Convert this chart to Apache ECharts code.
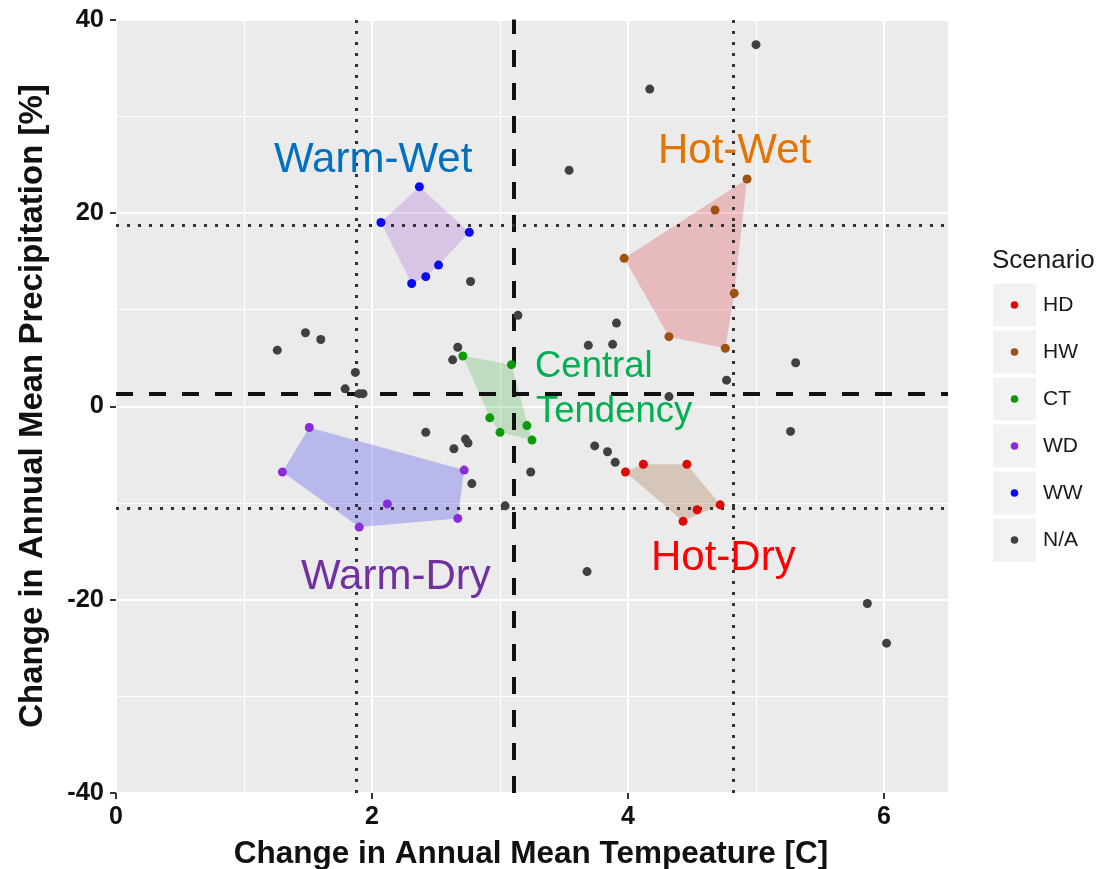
<!DOCTYPE html>
<html><head><meta charset="utf-8">
<script src="https://cdn.jsdelivr.net/npm/echarts@6/dist/echarts.min.js"></script>
<style>html,body{margin:0;padding:0;background:#fff}#c{width:1109px;height:869px}</style>
</head><body><div id="c"></div>
<script>
// ---- data (temperature change [C], precipitation change [%]) ----
const HD = [[3.98,-6.8],[4.12,-6.0],[4.46,-6.0],[4.72,-10.2],[4.54,-10.7],[4.43,-11.9]];
const HW = [[3.97,15.3],[4.68,20.3],[4.93,23.5],[4.83,11.7],[4.32,7.2],[4.76,6.0]];
const CT = [[2.71,5.2],[3.09,4.3],[2.92,-1.2],[3.00,-2.7],[3.21,-2.0],[3.25,-3.5]];
const WD = [[1.51,-2.2],[1.30,-6.8],[1.90,-12.5],[2.12,-10.1],[2.72,-6.6],[2.67,-11.6]];
const WW = [[2.07,19.0],[2.37,22.7],[2.76,18.0],[2.52,14.6],[2.42,13.4],[2.31,12.7]];
const NA = [[1.26,5.8],[1.48,7.6],[1.60,6.9],[1.87,3.5],[1.79,1.8],[1.90,1.3],[1.93,1.3],
  [2.77,12.9],[3.14,9.4],[2.67,6.1],[2.63,4.8],[2.42,-2.7],[2.73,-3.4],[2.75,-3.8],[2.64,-4.4],
  [2.78,-8.0],[3.24,-6.8],[3.04,-10.3],[5.00,37.4],[4.17,32.8],[3.54,24.4],[3.91,8.6],[3.69,6.3],
  [3.88,6.4],[5.31,4.5],[4.77,2.7],[4.32,1.0],[5.27,-2.6],[3.74,-4.1],[3.84,-4.7],[3.90,-5.8],
  [3.68,-17.1],[5.87,-20.4],[6.02,-24.5]];
const scenarioNames = ['HD','HW','CT','WD','WW','N/A'];
const dashedX = [3.11];
const dashedY = [1.34];
const dottedX = [1.88, 4.815];
const dottedY = [18.75, -10.55];
const xLabelValues = [0,2,4,6];

// ---- styles ----
const groups = [HD, HW, CT, WD, WW, NA];
const pointColors = ['#DD0A0A','#A0500F','#0A9A0A','#8C2BD8','#0A0AF5','#404040'];
const hullFills = {
  HD:'rgba(160,100,50,0.27)', HW:'rgba(220,60,70,0.27)', CT:'rgba(40,170,40,0.22)',
  WD:'rgba(90,90,240,0.35)', WW:'rgba(160,80,210,0.25)'
};
const FONT = "'Liberation Sans', Arial, Helvetica, sans-serif";

function hull(pts){
  const p = pts.slice().sort((a,b)=>a[0]-b[0]||a[1]-b[1]);
  const cross=(o,a,b)=>(a[0]-o[0])*(b[1]-o[1])-(a[1]-o[1])*(b[0]-o[0]);
  const lo=[],up=[];
  for(const q of p){while(lo.length>=2&&cross(lo[lo.length-2],lo[lo.length-1],q)<=0)lo.pop();lo.push(q);}
  for(let i=p.length-1;i>=0;i--){const q=p[i];while(up.length>=2&&cross(up[up.length-2],up[up.length-1],q)<=0)up.pop();up.push(q);}
  up.pop();lo.pop();return lo.concat(up);
}

const series = [];
['HD','HW','CT','WD','WW'].forEach((n,i)=>{
  const h = hull(groups[i]);
  series.push({
    type:'custom', name:n+' hull', z:1, silent:true,
    data:h,
    renderItem:function(params, api){
      if(params.dataIndex!==0) return null;
      return {type:'polygon', shape:{points:h.map(q=>api.coord(q))}, style:{fill:hullFills[n]}};
    }
  });
});
series.push({
  type:'scatter', name:'lines', data:[], z:3, silent:true,
  markLine:{
    silent:true, symbol:'none', animation:false, label:{show:false},
    data:[
      ...dashedX.map(v=>({xAxis:v, lineStyle:{type:[17,16], width:4, color:'#111'}})),
      ...dashedY.map(v=>({yAxis:v, lineStyle:{type:[17,16], width:4, color:'#111'}})),
      ...dottedX.map(v=>({xAxis:v, lineStyle:{type:[3,8], width:3, color:'#333'}})),
      ...dottedY.map(v=>({yAxis:v, lineStyle:{type:[3,8], width:3, color:'#333'}}))
    ]
  }
});
scenarioNames.forEach((n,i)=>{
  series.push({type:'scatter', name:n, data:groups[i], symbolSize:9, z:5,
    itemStyle:{color:pointColors[i], opacity:1}});
});

// legend (manual)
const graphics = [];
graphics.push({type:'text', left:992, top:248, style:{text:'Scenario', font:'26px '+FONT, fill:'#1a1a1a'}});
scenarioNames.forEach((n,i)=>{
  const cy = 305 + i*47;
  graphics.push({type:'rect', shape:{x:993, y:cy-21.5, width:43, height:43}, style:{fill:'#F2F2F2'}});
  graphics.push({type:'circle', shape:{cx:1014.5, cy:cy, r:3.8}, style:{fill:pointColors[i]}});
  graphics.push({type:'text', x:1043, y:cy, style:{text:n, font:'21px '+FONT, fill:'#1a1a1a', textAlign:'left', textVerticalAlign:'middle'}});
});
// annotations
const ann = [
  ['Warm-Wet',274,160,42,'#0070C0'],
  ['Hot-Wet',658,151,42,'#E37400'],
  ['Central',535,367,36.5,'#00B050'],
  ['Tendency',536,412,36.5,'#00B050'],
  ['Hot-Dry',651,558,42,'#FF0000'],
  ['Warm-Dry',301,577,42,'#7030A0']
];
ann.forEach(a=>graphics.push({type:'text', x:a[1], y:a[2], z:100,
  style:{text:a[0], font:a[3]+'px '+FONT, fill:a[4], textAlign:'left', textVerticalAlign:'middle'}}));
// axis titles
graphics.push({type:'text', x:531, y:854, style:{text:'Change in Annual Mean Tempeature [C]', font:'bold 31.5px '+FONT, fill:'#111', textAlign:'center', textVerticalAlign:'middle'}});
graphics.push({type:'text', x:33, y:406, rotation:Math.PI/2, style:{text:'Change in Annual Mean Precipitation [%]', font:'bold 33px '+FONT, fill:'#111', textAlign:'center', textVerticalAlign:'middle'}});

const chart = echarts.init(document.getElementById('c'), null, {renderer:'canvas'});
chart.setOption({
  animation:false,
  backgroundColor:'#fff',
  grid:{left:116, top:19.5, width:832, height:773.5, show:true, backgroundColor:'#EBEBEB', borderWidth:0},
  xAxis:[{
    type:'value', min:0, max:6.5, interval:2, position:'bottom',
    axisLine:{show:false, onZero:false},
    axisTick:{show:true, length:6, lineStyle:{color:'#333', width:2}, customValues:xLabelValues},
    axisLabel:{color:'#111', fontWeight:'bold', fontSize:25, fontFamily:FONT, margin:12, customValues:xLabelValues,
      formatter:v=> (xLabelValues.indexOf(v)>=0? String(v):'')},
    splitLine:{show:true, lineStyle:{color:'#fff', width:2}}
  },{
    type:'value', min:0, max:6.5, interval:1, position:'bottom',
    axisLine:{show:false, onZero:false}, axisTick:{show:false}, axisLabel:{show:false},
    splitLine:{show:true, lineStyle:{color:'#fff', width:1}}
  }],
  yAxis:{
    type:'value', min:-40, max:40, interval:20,
    axisLine:{show:false, onZero:false},
    axisTick:{show:true, length:6, lineStyle:{color:'#333', width:2}},
    axisLabel:{color:'#111', fontWeight:'bold', fontSize:25.5, fontFamily:FONT, margin:12},
    splitLine:{show:true, lineStyle:{color:'#fff', width:2}},
    minorTick:{show:false, splitNumber:2},
    minorSplitLine:{show:true, lineStyle:{color:'#fff', width:1}}
  },
  series:series,
  graphic:graphics
});
</script></body></html>
